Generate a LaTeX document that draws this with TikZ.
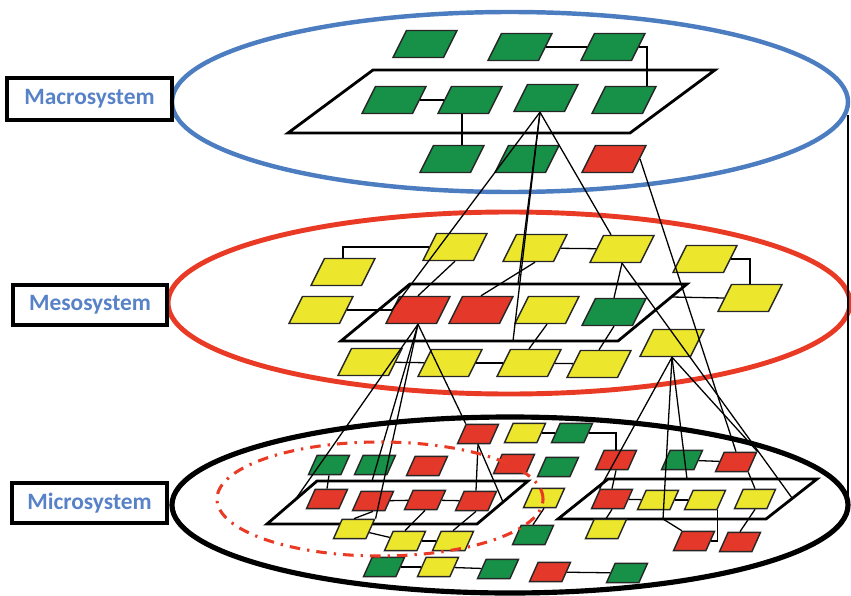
\documentclass[tikz,border=0pt]{standalone}
\usepackage{fontspec}
\newfontfamily\labelfont{Carlito}
\usetikzlibrary{shapes.geometric, calc}

\definecolor{nodegreen}{RGB}{23,145,72}
\definecolor{nodered}{RGB}{228,57,42}
\definecolor{nodeyellow}{RGB}{236,231,45}
\definecolor{ringblue}{RGB}{75,125,192}
\definecolor{ringred}{RGB}{233,58,38}
\definecolor{labelblue}{RGB}{88,130,200}

\begin{document}
\begin{tikzpicture}[
    x=0.03cm, y=-0.03cm,
    cell/.style={trapezium, trapezium left angle=70, trapezium right angle=110, trapezium stretches=true, draw=black!85, line width=1.2pt, inner sep=1pt, minimum width=1.92cm, minimum height=0.81cm},
    mini/.style={cell, minimum width=1.23cm, minimum height=0.58cm},
    gfill/.style={fill=nodegreen}, rfill/.style={fill=nodered}, yfill/.style={fill=nodeyellow},
    ring/.style={ellipse, draw, inner sep=0pt},
    platform/.style={draw=black, line width=2.4pt, line join=miter},
    link/.style={draw=black, line width=1.1pt},
    level/.style={draw=black, line width=2.6pt, text=labelblue, inner sep=0pt, font=\labelfont\bfseries\fontsize{20}{21}\selectfont}
]
\useasboundingbox (0,0) rectangle (851,595);

% Rings for the three levels
\node[ring, draw=ringblue, line width=3.8pt, minimum width=20.28cm, minimum height=5.4cm] (macro) at (510,102) {};
\node[ring, draw=ringred, line width=4.2pt, minimum width=20.46cm, minimum height=5.46cm] (meso) at (509,303) {};
\node[ring, draw=black, line width=4.4pt, minimum width=20.28cm, minimum height=5.28cm] (micro) at (510,505) {};
\coordinate (side-top) at (848,115);
\coordinate (side-bot) at (848,497);
\draw[link, line width=1.5pt] (side-top) -- (side-bot);

% Level labels
\node[level, minimum width=4.95cm, minimum height=1.26cm] (maclabel) at (89.5,99) {Macrosystem};
\node[level, minimum width=4.62cm, minimum height=1.2cm] (meslabel) at (90,305) {Mesosystem};
\node[level, minimum width=4.65cm, minimum height=1.2cm] (miclabel) at (89.5,503) {Microsystem};

% Platforms
\draw[platform] (288,133) -- (630,133) -- (715,70) -- (373,70) -- cycle;
\draw[platform] (341,341) -- (618,341) -- (687,284) -- (410,284) -- cycle;
\draw[platform] (267,524) -- (477,524) -- (528,481) -- (317,481) -- cycle;
\draw[platform] (558,519) -- (766,519) -- (817,479) -- (608,479) -- cycle;

% Macrosystem
\node[cell, gfill] (ma1) at (425,44) {};
\node[cell, gfill] (ma2) at (520,47) {};
\node[cell, gfill] (ma3) at (613,47) {};
\node[cell, gfill] (ma4) at (394,100) {};
\node[cell, gfill] (ma5) at (470,100) {};
\node[cell, gfill] (ma6) at (546,98) {};
\node[cell, gfill] (ma7) at (624,100) {};
\node[cell, gfill] (ma8) at (452,159) {};
\node[cell, gfill] (ma9) at (527,159) {};
\node[cell, rfill] (ma10) at (614,159) {};

% Mesosystem
\node[cell, yfill] (me1) at (343,272) {};
\node[cell, yfill] (me2) at (455,247) {};
\node[cell, yfill] (me3) at (535,248) {};
\node[cell, yfill] (me4) at (622,249) {};
\node[cell, yfill] (me5) at (705,259) {};
\node[cell, yfill] (me6) at (750,298) {};
\node[cell, yfill] (me7) at (321,310) {};
\node[cell, rfill] (me8) at (418,310) {};
\node[cell, rfill] (me9) at (481,310) {};
\node[cell, yfill] (me10) at (547,310) {};
\node[cell, gfill] (me11) at (614,312) {};
\node[cell, yfill] (me12) at (370,362) {};
\node[cell, yfill] (me13) at (450,363) {};
\node[cell, yfill] (me14) at (529,363) {};
\node[cell, yfill] (me15) at (599,364) {};
\node[cell, yfill] (me16) at (672,343) {};

% Microsystem
\node[mini, rfill] (mi1) at (478,434) {};
\node[mini, yfill] (mi2) at (525,433) {};
\node[mini, gfill] (mi3) at (572,433) {};
\node[mini, rfill] (mi4) at (616,460) {};
\node[mini, gfill] (mi5) at (329,465) {};
\node[mini, gfill] (mi6) at (375,465) {};
\node[mini, rfill] (mi7) at (427,466) {};
\node[mini, rfill] (mi8) at (514,464) {};
\node[mini, gfill] (mi9) at (558,467) {};
\node[mini, rfill] (mi10) at (327,499) {};
\node[mini, rfill] (mi11) at (373,501) {};
\node[mini, rfill] (mi12) at (425,500) {};
\node[mini, rfill] (mi13) at (476,501) {};
\node[mini, yfill] (mi14) at (544,498) {};
\node[mini, yfill] (mi15) at (354,529) {};
\node[mini, yfill] (mi16) at (405,541) {};
\node[mini, yfill] (mi17) at (453,541) {};
\node[mini, gfill] (mi18) at (533,535) {};
\node[mini, gfill] (mi19) at (384,567) {};
\node[mini, yfill] (mi20) at (438,567) {};
\node[mini, gfill] (mi21) at (498,569) {};
\node[mini, rfill] (mi22) at (550,572) {};
\node[mini, gfill] (mi23) at (627,573) {};
\node[mini, rfill] (mi24) at (612,499) {};
\node[mini, yfill] (mi25) at (658,500) {};
\node[mini, yfill] (mi26) at (705,500) {};
\node[mini, yfill] (mi27) at (755,499) {};
\node[mini, yfill] (mi28) at (606,529) {};
\node[mini, gfill] (mi29) at (682,460) {};
\node[mini, rfill] (mi30) at (736,462) {};
\node[mini, rfill] (mi31) at (694,541) {};
\node[mini, rfill] (mi32) at (740,542) {};

% Free ends on the platforms
\coordinate (me-top) at (518,284);
\coordinate (me-bot) at (513,341);
\coordinate (me-edge) at (671,297);
\coordinate (lp-left) at (295,500);
\coordinate (lp-top) at (372,481);
\coordinate (lp-right) at (503,502);
\coordinate (rp-top) at (687,479);
\coordinate (rp-bot) at (663,519);
\coordinate (rp-right) at (792,498);

% Links inside the macrosystem
\draw[link] (ma2) -- (ma3);
\draw[link] (ma3.east) -| ($(ma7.north)+(23,0)$);
\draw[link] (ma4) -- (ma5);
\draw[link] ($(ma5.south)+(-8,0)$) -- ($(ma8.north)+(10,0)$);

% Macro to meso
\coordinate (hub1) at ($(ma6.south)+(-6,0)$);
\draw[link] (hub1) -- (me8.west);
\draw[link] (hub1) -- (me-top);
\draw[link] (hub1) -- (me-bot);
\draw[link] (hub1) -- ($(me4.top left corner)+(8,0)$);
\draw[link] (ma10.east) -- (mi30.north);

% Links inside the mesosystem
\draw[link] (me1.north) |- (me2.west);
\draw[link] (me2.south) -- (me8.north);
\draw[link] (me3) -- (me4);
\draw[link] (me3.south) -- (me9.north);
\draw[link] (me4.south) -- (me11.north);
\draw[link] (me5.east) -| (me6.north);
\draw[link] (me-edge) -- (me6.west);
\draw[link] (me7) -- (me8);
\draw[link] (me10.south) -- (me14.north);
\draw[link] (me11.south) -- (me15.north);
\draw[link] (me12) -- (me13);
\draw[link] (me13) -- (me14);
\draw[link] (me14) -- (me15);

% Meso to micro
\draw[link] (me4.south) -- (rp-right);
\coordinate (hub2) at (me8.south);
\draw[link] (hub2) -- (lp-left);
\draw[link] (hub2) -- (lp-top);
\draw[link] (hub2) -- (mi15.top right corner);
\draw[link] (hub2) -- (mi1.top left corner);
\coordinate (hub3) at (me16.south);
\draw[link] (hub3) -- (mi24.top left corner);
\draw[link] (hub3) -- (rp-bot);
\draw[link] (hub3) -- (rp-top);
\draw[link] (hub3) -- (mi30.top right corner);

% Links inside the microsystem
\draw[link] (mi2) -- (mi3);
\draw[link] (mi3.east) -| (mi4.north);
\draw[link] (mi4.south) -- (mi24.north);
\draw[link] (mi1.south) -- (mi13.north);
\draw[link] (mi1.south) -- (lp-right);
\draw[link] (mi5.south) -- (mi10.north);
\draw[link] (mi11) -- (mi12);
\draw[link] (mi12) -- (mi13);
\draw[link] (mi11.south) -- (mi15.north);
\draw[link] (mi12.south) -- (mi16.north);
\draw[link] (mi13.south) -- (mi17.north);
\draw[link] (mi15) -- (mi16);
\draw[link] (mi16) -- (mi17);
\draw[link] (mi14.south) -- (mi18.north);
\draw[link] (mi19) -- (mi20);
\draw[link] (mi20) -- (mi21);
\draw[link] (mi22) -- (mi23);
\draw[link] (mi24) -- (mi25);
\draw[link] (mi25) -- (mi26);
\draw[link] (mi24.south) -- (mi28.north);
\draw[link] (rp-bot) -- (mi31.top left corner);
\draw[link] (mi26.bottom right corner) |- (mi31.east);
\draw[link] (mi27.south) -- (mi32.north);
\draw[link] (mi29) -- (mi30);
\draw[link] (mi30.bottom right corner) -- (mi27.north);

% Dash-dot group in the microsystem
\draw[ringred, line width=2.6pt, dash pattern=on 9pt off 6pt on 2pt off 6pt] (380,499) ellipse [x radius=4.89cm, y radius=1.71cm];

\end{tikzpicture}
\end{document}
